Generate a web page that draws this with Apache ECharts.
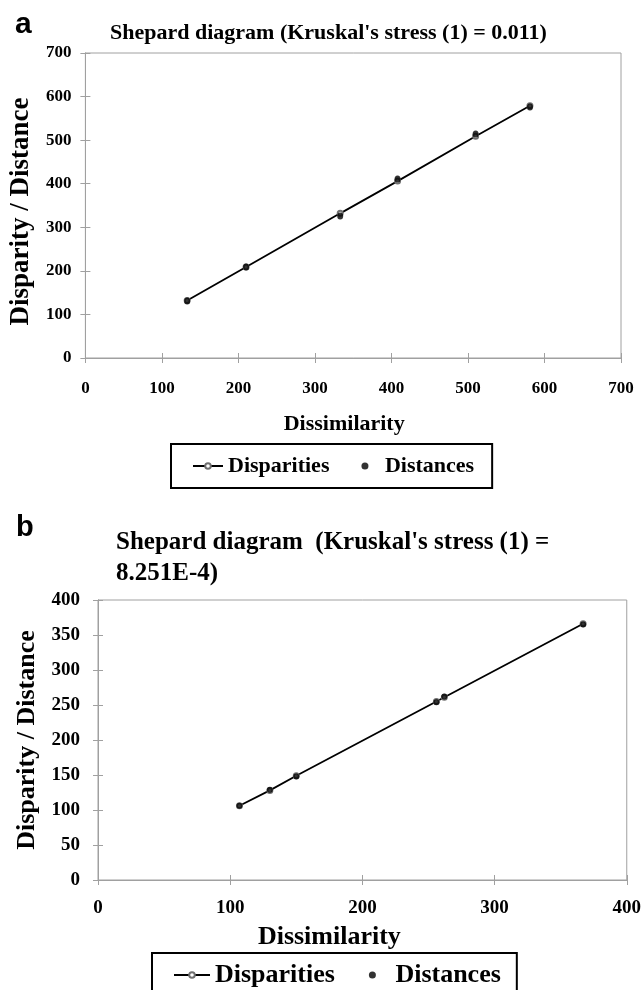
<!DOCTYPE html>
<html>
<head>
<meta charset="utf-8">
<style>
  html, body { margin: 0; padding: 0; background: #fff; }
  #chart { width: 644px; height: 990px; }
</style>
<script src="https://cdn.jsdelivr.net/npm/echarts@6/dist/echarts.min.js"></script>
</head>
<body>
<div id="chart"></div>
<script>
// panel a
var dissA = [133, 210, 333, 408, 510, 581];
var dispA = [132, 209, 332, 406, 509, 579];
var distA = [131, 209, 326, 411, 514, 576];
// panel b
var dissB = [107, 130, 150, 256, 262, 367];
var dispB = [106, 128, 149, 255, 261, 366];
var distB = [106, 129, 148, 254, 262, 365];

var titleA = "Shepard diagram (Kruskal's stress (1) = 0.011)";
var titleB = "Shepard diagram  (Kruskal's stress (1) =\n8.251E-4)";
var xName = 'Dissimilarity';
var yName = 'Disparity / Distance';
var legendNames = ['Disparities', 'Distances'];

var serif = '"Liberation Serif", "Times New Roman", serif';
var axisGray = '#a0a0a0';

function pairs(xs, ys) {
  return xs.map(function (x, i) { return [x, ys[i]]; });
}

// main axis: labels + ticks on one side; ghost axis: ticks on other side (so ticks cross)
function xAxes(grid, max, step, fs, margin, nameSize, nameGap, namePad) {
  return [
    {
      type: 'value', gridIndex: grid, position: 'bottom', min: 0, max: max, interval: step,
      name: xName, nameLocation: 'middle', nameGap: nameGap,
      nameTextStyle: { fontFamily: serif, fontWeight: 'bold', fontSize: nameSize, color: '#000', padding: namePad },
      axisLine: { lineStyle: { color: axisGray, width: 1 } },
      axisTick: { inside: true, length: 5, lineStyle: { color: axisGray } },
      axisLabel: { fontFamily: serif, fontWeight: 'bold', fontSize: fs, color: '#000', margin: margin, showMaxLabel: true },
      splitLine: { show: false }
    },
    {
      type: 'value', gridIndex: grid, position: 'bottom', min: 0, max: max, interval: step,
      axisLine: { lineStyle: { color: axisGray, width: 1 } },
      axisTick: { inside: false, length: 5, lineStyle: { color: axisGray } },
      axisLabel: { show: false },
      splitLine: { show: false }
    }
  ];
}

function yAxes(grid, max, step, fs, margin, nameSize, nameGap, namePad) {
  return [
    {
      type: 'value', gridIndex: grid, position: 'left', min: 0, max: max, interval: step,
      name: yName, nameLocation: 'middle', nameGap: nameGap,
      nameTextStyle: { fontFamily: serif, fontWeight: 'bold', fontSize: nameSize, color: '#000', padding: namePad },
      axisLine: { show: true, lineStyle: { color: axisGray, width: 1 } },
      axisTick: { show: true, inside: false, length: 5, lineStyle: { color: axisGray } },
      axisLabel: { fontFamily: serif, fontWeight: 'bold', fontSize: fs, color: '#000', margin: margin },
      splitLine: { show: false }
    },
    {
      type: 'value', gridIndex: grid, position: 'left', min: 0, max: max, interval: step,
      axisLine: { show: true, lineStyle: { color: axisGray, width: 1 } },
      axisTick: { show: true, inside: true, length: 5, lineStyle: { color: axisGray } },
      axisLabel: { show: false },
      splitLine: { show: false }
    }
  ];
}

function lineSeries(xi, yi, data) {
  return {
    name: legendNames[0], type: 'line', xAxisIndex: xi, yAxisIndex: yi,
    data: data, symbol: 'emptyCircle', symbolSize: 5, showSymbol: true,
    itemStyle: { color: '#707070', borderWidth: 1 },
    lineStyle: { color: '#000', width: 1.8 },
    z: 2, silent: true, animation: false
  };
}

function dotSeries(xi, yi, data, size) {
  return {
    name: legendNames[1], type: 'scatter', xAxisIndex: xi, yAxisIndex: yi,
    data: data, symbol: 'circle', symbolSize: size,
    itemStyle: { color: '#000' },
    z: 3, silent: true, animation: false
  };
}

function legend(left, top, iw, ih, gap, fs, lh, pad) {
  return {
    left: left, top: top, orient: 'horizontal',
    data: [legendNames[0], { name: legendNames[1], icon: 'circle' }],
    itemWidth: iw, itemHeight: ih, itemGap: gap,
    padding: pad, borderColor: '#000', borderWidth: 2,
    selectedMode: false,
    textStyle: { fontFamily: serif, fontWeight: 'bold', fontSize: fs, color: '#000', lineHeight: lh }
  };
}

var chart = echarts.init(document.getElementById('chart'), null, { renderer: 'canvas' });

var option = {
  backgroundColor: '#fff',
  animation: false,
  title: [
    { text: 'a', left: 10, top: 5, textStyle: { fontFamily: '"Liberation Sans", Arial, sans-serif', fontWeight: 'bold', fontSize: 30, color: '#000' } },
    { text: titleA, left: 105, top: 17, textStyle: { fontFamily: serif, fontWeight: 'bold', fontSize: 22, color: '#000' } },
    { text: 'b', left: 11, top: 508, textStyle: { fontFamily: '"Liberation Sans", Arial, sans-serif', fontWeight: 'bold', fontSize: 29, color: '#000' } },
    { text: titleB, left: 111, top: 522, textStyle: { fontFamily: serif, fontWeight: 'bold', fontSize: 25, lineHeight: 31, color: '#000' } }
  ],
  grid: [
    { left: 78, top: 53, width: 543, height: 305, show: true, borderColor: axisGray, borderWidth: 1, backgroundColor: 'transparent' },
    { left: 98, top: 600, width: 529, height: 280, show: true, borderColor: axisGray, borderWidth: 1, backgroundColor: 'transparent' }
  ],
  xAxis: []
    .concat(xAxes(0, 700, 100, 17, 22, 22, 55, [0, 18, 0, 0]))
    .concat(xAxes(1, 400, 100, 19, 19, 26, 44, [0, 66, 0, 0])),
  yAxis: []
    .concat(yAxes(0, 700, 100, 17, 14, 27, 40, [0, 12, 0, 0]))
    .concat(yAxes(1, 400, 50, 19, 18, 26, 58, [0, 0, 0, 0])),
  legend: [
    legend(171, 444, 30, 7, 32, 22, 24, [10, 18, 10, 21]),
    legend(152, 953, 36, 7, 34, 26, 28, [8, 16, 8, 21])
  ],
  series: [
    lineSeries(0, 0, pairs(dissA, dispA)),
    dotSeries(0, 0, pairs(dissA, distA), [6, 7]),
    lineSeries(2, 2, pairs(dissB, dispB)),
    dotSeries(2, 2, pairs(dissB, distB), 6)
  ]
};

chart.setOption(option);
</script>
</body>
</html>
